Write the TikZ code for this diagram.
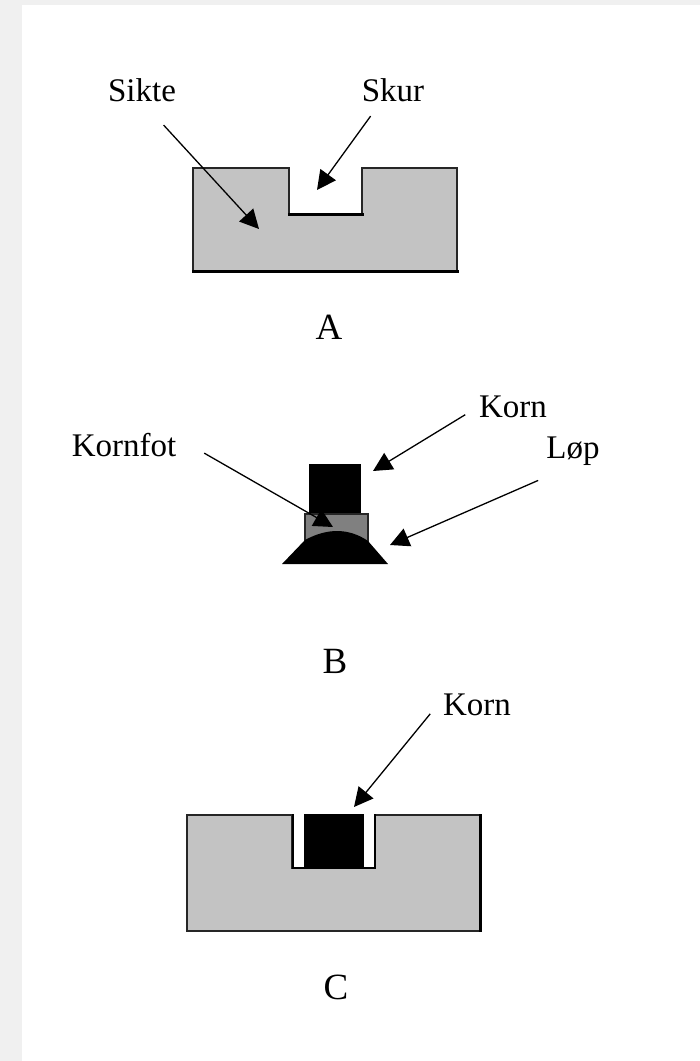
\documentclass[tikz,border=0pt]{standalone}
\usepackage{fontspec}
\setmainfont{Liberation Serif}
\usetikzlibrary{arrows.meta}
\definecolor{bandgrey}{HTML}{F0F0F0}
\definecolor{bodygrey}{HTML}{C3C3C3}
\definecolor{footgrey}{HTML}{808080}
\begin{document}
\begin{tikzpicture}
	[x=1pt,y=-1pt,
	word/.style={anchor=base,inner sep=0pt,font=\fontsize{33}{33}\selectfont},
	letter/.style={anchor=base,inner sep=0pt,font=\fontsize{37}{37}\selectfont},
	body/.style={draw=black!85,fill=bodygrey,line width=1.8pt},
	edge/.style={line width=3pt,line cap=rect},
	arrow/.style={-{Triangle[length=19pt,width=19pt]},line width=1.3pt,black},
	>=latex]
	\useasboundingbox (0,0) rectangle (700,1061);
	\fill[bandgrey] (0,0) rectangle (700,5);
	\fill[bandgrey] (0,0) rectangle (22,1061);
	% sight A
	\draw[body] (193,168)--(289,168)--(289,214)--(362,214)--(362,168)--(457,168)--(457,271)--(193,271)--cycle;
	\draw[edge] (289,214)--(362,214);
	\draw[edge] (193,271)--(457,271);
	% front sight B
	\fill[black] (309,464) rectangle (361,514);
	\draw[draw=black!85,fill=footgrey,line width=1.4pt] (305,514) rectangle (368,545);
	\fill[black] (282,564)--(305,540) .. controls (316,534) and (327,531) .. (337,531) .. controls (347,531) and (358,534) .. (368,541)--(388,564)--cycle;
	% sight C
	\draw[body] (187,815)--(292,815)--(292,868)--(375,868)--(375,815)--(480,815)--(480,931)--(187,931)--cycle;
	\fill[white] (293,814) rectangle (374,866);
	\fill[black] (304,814) rectangle (364,868);
	\draw[line width=2.2pt] (293,814)--(293,868)--(375,868)--(375,814);
	\draw[edge,line cap=butt] (480,814)--(480,932);
	% labels
	\node[word,name=sikte]at(142,101){Sikte};
	\node[word,name=skur]at(393,101){Skur};
	\node[letter,name=a]at(329,339){A};
	\node[word,name=kornb]at(513,417){Korn};
	\node[word,name=kornfot]at(124,456){Kornfot};
	\node[word,name=lop]at(573,458){Løp};
	\node[letter,name=b]at(335,673){B};
	\node[word,name=kornc]at(477,715){Korn};
	\node[letter,name=c]at(336,999){C};
	% arrow tips
	\coordinate (siktetip) at (259,229);
	\coordinate (skurtip) at (317,190);
	\coordinate (kornbtip) at (373,471);
	\coordinate (kornfottip) at (333,527);
	\coordinate (loptip) at (390,545);
	\coordinate (kornctip) at (354,807);
	\draw[arrow,shorten <=32pt] (sikte.south)--(siktetip);
	\draw[arrow,shorten <=18pt] (skur.-135)--(skurtip);
	\draw[arrow,shorten <=16pt] (kornb.west)--(kornbtip);
	\draw[arrow,shorten <=32pt] (kornfot.8)--(kornfottip);
	\draw[arrow,shorten <=38pt] (lop.south)--(loptip);
	\draw[arrow,shorten <=20pt] (kornc.170)--(kornctip);
\end{tikzpicture}
\end{document}
